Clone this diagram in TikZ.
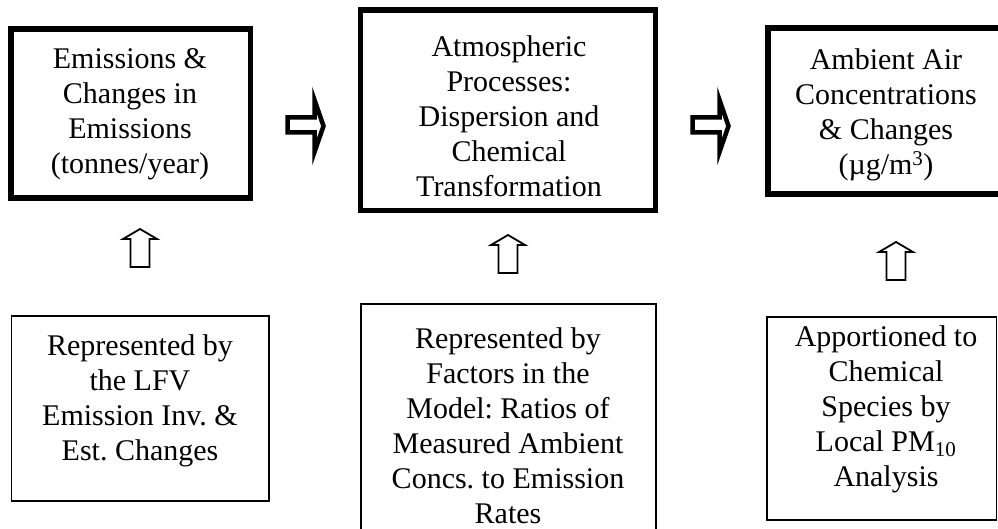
\documentclass[tikz,border=0pt]{standalone}
\usepackage{fontspec}
\setmainfont{Liberation Serif}
\frenchspacing
\begin{document}
\begin{tikzpicture}[x=1pt,y=-1pt,
  thickbox/.style={draw, line width=5.5pt, inner sep=0pt},
  thinbox/.style={draw, line width=1.8pt, inner sep=0pt},
  txt/.style={align=center, inner sep=0pt, font=\fontsize{30}{35}\selectfont},
  blockarrow/.style={draw, line width=4.5pt, line join=miter, miter limit=10},
  uparrow/.style={draw, line width=1.8pt, line join=miter}]
\useasboundingbox (0,0) rectangle (998,529);
\clip (0,0) rectangle (998,529);
% top boxes
\node[thickbox, minimum width=239.5pt, minimum height=169pt] (b1) at (130.75,113.5) {};
\node[thickbox, minimum width=295pt, minimum height=200.5pt] (b2) at (508,110.25) {};
\node[thickbox, minimum width=235pt, minimum height=166pt] (b3) at (885.5,111) {};
% bottom boxes
\node[thinbox, minimum width=257.5pt, minimum height=185pt] (b4) at (140.25,408.5) {};
\node[thinbox, minimum width=295pt, minimum height=260pt] (b5) at (508.5,434) {};
\node[thinbox, minimum width=229.5pt, minimum height=203pt] (b6) at (881.75,418.5) {};
% texts
\node[txt] (t1) at (130,114.5) {Emissions \&\\Changes in\\Emissions\\(tonnes/year)};
\node[txt] (t2) at (509,116) {Atmospheric\\Processes:\\Dispersion and\\Chemical\\Transformation};
\node[txt] (t3) at (886,115) {Ambient Air\\Concentrations\\\& Changes\\(µg/m\textsuperscript{3})};
\node[txt] (t4) at (140,400.5) {Represented by\\the LFV\\Emission Inv. \&\\Est. Changes};
\node[txt] (t5) at (508,426) {Represented by\\Factors in the\\Model: Ratios of\\Measured Ambient\\Concs. to Emission\\Rates};
\node[txt] (t6) at (886,409) {Apportioned to\\Chemical\\Species by\\Local PM\textsubscript{10}\\Analysis};
% right block arrows
\draw[blockarrow] (287.5,117.5) -- (314.5,117.5) -- (314.5,100) -- (323.5,126) -- (314.5,152) -- (314.5,132.5) -- (287.5,132.5) -- cycle;
\draw[blockarrow] (692.5,117.5) -- (719.5,117.5) -- (719.5,100) -- (728.5,126) -- (719.5,152) -- (719.5,132.5) -- (692.5,132.5) -- cycle;
% up arrows
\draw[uparrow, shift={(140,229)}] (0,0) -- (-17,10) -- (-9.5,10) -- (-9.5,38) -- (9.5,38) -- (9.5,10) -- (17,10) -- cycle;
\draw[uparrow, shift={(508,235)}] (0,0) -- (-17,10) -- (-9.5,10) -- (-9.5,38) -- (9.5,38) -- (9.5,10) -- (17,10) -- cycle;
\draw[uparrow, shift={(896,242)}] (0,0) -- (-17,10) -- (-9.5,10) -- (-9.5,38) -- (9.5,38) -- (9.5,10) -- (17,10) -- cycle;
\end{tikzpicture}
\end{document}
